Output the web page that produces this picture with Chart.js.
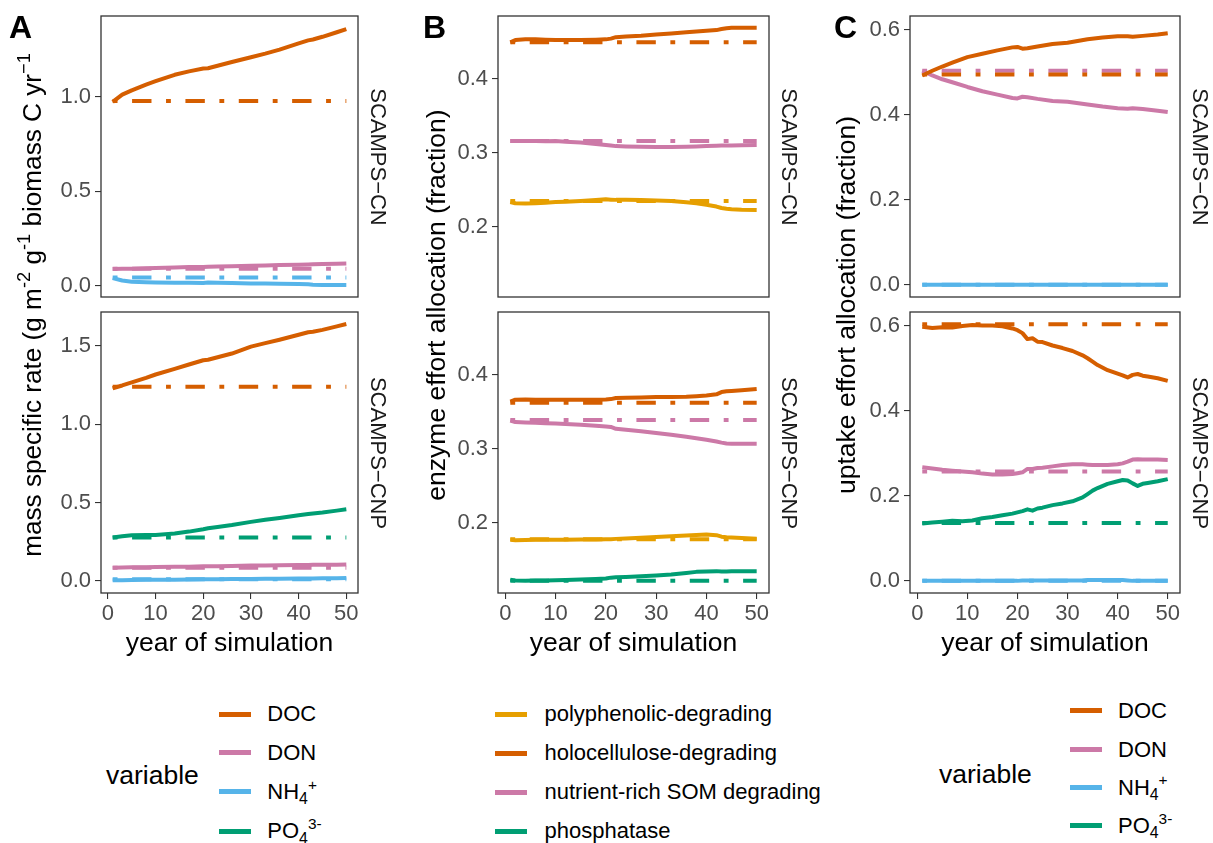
<!DOCTYPE html>
<html>
<head>
<meta charset="utf-8">
<script src="https://cdn.jsdelivr.net/npm/chart.js@4.4.1/dist/chart.umd.min.js"></script>
<style>
  body { margin: 0; background: #fff; font-family: 'Liberation Sans', Arial, sans-serif; }
  #fig { position: relative; width: 1213px; height: 843px; overflow: hidden; }
  canvas { position: absolute; }
  .txt { position: absolute; white-space: nowrap; line-height: 1; }
  .ytitle { font-size: 26.5px; color: #000; transform: translate(-50%, -50%) rotate(-90deg); }
  .strip { font-size: 22px; color: #1a1a1a; transform: translate(-50%, -50%) rotate(90deg); }
  .tag { font-size: 32px; font-weight: bold; color: #000; }
  .xtitle { font-size: 26.5px; color: #000; transform: translateX(-50%); }
  .lgtitle { font-size: 26.5px; color: #000; }
  .lglab { font-size: 22px; color: #000; }
  .key { position: absolute; height: 5px; }
  .sp { font-size: 0.7em; position: relative; top: -0.6em; line-height: 0; }
  .sb { font-size: 0.72em; position: relative; top: 0.35em; line-height: 0; }
</style>
</head>
<body>
<div id="fig"></div>
<script>
// colours (Okabe-Ito)
const cDOC = '#D55E00', cDON = '#CC79A7', cNH4 = '#56B4E9', cPO4 = '#009E73', cPOLY = '#E69F00';

// ---- panel A: mass specific rate ----
const yearsA = [1, 3, 5, 8, 10, 14, 17, 20, 21, 23, 26, 30, 33, 36, 40, 42, 43, 45, 48, 50];
const A_CN_DOC = [0.972, 1.010, 1.033, 1.063, 1.081, 1.115, 1.133, 1.148, 1.150, 1.163, 1.183, 1.208, 1.227, 1.248, 1.281, 1.297, 1.302, 1.316, 1.340, 1.357];
const A_CN_DON = [0.088, 0.089, 0.090, 0.092, 0.093, 0.096, 0.098, 0.099, 0.100, 0.101, 0.103, 0.105, 0.107, 0.109, 0.111, 0.112, 0.113, 0.114, 0.116, 0.117];
const A_CN_NH4 = [0.040, 0.027, 0.021, 0.018, 0.017, 0.016, 0.015, 0.014, 0.017, 0.016, 0.014, 0.012, 0.011, 0.010, 0.009, 0.007, 0.005, 0.004, 0.004, 0.004];
const A_CN_REF = { DOC: 0.976, DON: 0.090, NH4: 0.043 };
const A_CNP_DOC = [1.230, 1.248, 1.268, 1.297, 1.318, 1.354, 1.382, 1.409, 1.412, 1.428, 1.452, 1.496, 1.518, 1.540, 1.572, 1.588, 1.591, 1.603, 1.625, 1.640];
const A_CNP_DON = [0.085, 0.086, 0.087, 0.088, 0.089, 0.090, 0.091, 0.093, 0.094, 0.094, 0.096, 0.098, 0.099, 0.100, 0.101, 0.102, 0.103, 0.103, 0.104, 0.105];
const A_CNP_NH4 = [0.005, 0.005, 0.006, 0.007, 0.007, 0.008, 0.009, 0.010, 0.011, 0.011, 0.012, 0.013, 0.014, 0.014, 0.015, 0.016, 0.016, 0.017, 0.017, 0.018];
const A_CNP_PO4 = [0.277, 0.285, 0.292, 0.294, 0.294, 0.303, 0.315, 0.330, 0.336, 0.345, 0.357, 0.377, 0.390, 0.402, 0.420, 0.427, 0.431, 0.437, 0.449, 0.457];
const A_CNP_REF = { DOC: 1.240, DON: 0.085, NH4: 0.010, PO4: 0.278 };

// ---- panel B: enzyme effort allocation ----
const yearsB = [1, 2, 4, 6, 8, 10, 12, 15, 18, 20, 21, 22, 24, 27, 30, 33, 36, 38, 40, 42, 43, 44, 45, 47, 50];
const B_CN_POLY = [0.2337, 0.2320, 0.2315, 0.2318, 0.2325, 0.2335, 0.2340, 0.2350, 0.2362, 0.2372, 0.2368, 0.2365, 0.2365, 0.2362, 0.2358, 0.2350, 0.2333, 0.2318, 0.2298, 0.2275, 0.2255, 0.2245, 0.2238, 0.2232, 0.2228];
const B_CN_HOLO = [0.4490, 0.4520, 0.4530, 0.4530, 0.4525, 0.4520, 0.4520, 0.4520, 0.4525, 0.4530, 0.4540, 0.4560, 0.4570, 0.4580, 0.4595, 0.4610, 0.4625, 0.4635, 0.4645, 0.4655, 0.4670, 0.4680, 0.4685, 0.4687, 0.4687];
const B_CN_SOM = [0.3160, 0.3160, 0.3158, 0.3158, 0.3157, 0.3158, 0.3150, 0.3138, 0.3120, 0.3105, 0.3097, 0.3090, 0.3085, 0.3080, 0.3078, 0.3079, 0.3082, 0.3085, 0.3090, 0.3094, 0.3097, 0.3100, 0.3100, 0.3102, 0.3105];
const B_CN_REF = { POLY: 0.235, HOLO: 0.449, SOM: 0.316 };
const B_CNP_POLY = [0.1772, 0.1768, 0.1770, 0.1772, 0.1772, 0.1772, 0.1774, 0.1776, 0.1778, 0.1780, 0.1781, 0.1785, 0.1790, 0.1800, 0.1810, 0.1820, 0.1832, 0.1837, 0.1843, 0.1835, 0.1815, 0.1808, 0.1805, 0.1798, 0.1788];
const B_CNP_HOLO = [0.3636, 0.3662, 0.3665, 0.3660, 0.3660, 0.3662, 0.3662, 0.3663, 0.3663, 0.3665, 0.3670, 0.3686, 0.3690, 0.3692, 0.3697, 0.3700, 0.3703, 0.3710, 0.3720, 0.3735, 0.3765, 0.3775, 0.3780, 0.3790, 0.3807];
const B_CNP_SOM = [0.3380, 0.3360, 0.3355, 0.3350, 0.3345, 0.3340, 0.3335, 0.3325, 0.3312, 0.3302, 0.3295, 0.3270, 0.3258, 0.3238, 0.3212, 0.3188, 0.3162, 0.3143, 0.3122, 0.3098, 0.3083, 0.3072, 0.3068, 0.3067, 0.3067];
const B_CNP_PHOS = [0.1233, 0.1225, 0.1221, 0.1222, 0.1225, 0.1228, 0.1232, 0.1238, 0.1245, 0.1250, 0.1262, 0.1268, 0.1272, 0.1282, 0.1292, 0.1305, 0.1325, 0.1340, 0.1345, 0.1350, 0.1345, 0.1345, 0.1348, 0.1350, 0.1350];
const B_CNP_REF = { POLY: 0.178, HOLO: 0.362, SOM: 0.339, PHOS: 0.122 };

// ---- panel C: uptake effort allocation ----
const yearsC1 = [1, 3, 5, 7, 10, 13, 16, 19, 20, 21, 22, 24, 27, 30, 34, 37, 40, 42, 43, 45, 48, 50];
const C_CN_DOC = [0.492, 0.503, 0.513, 0.522, 0.535, 0.543, 0.551, 0.558, 0.559, 0.555, 0.556, 0.560, 0.566, 0.569, 0.577, 0.581, 0.584, 0.584, 0.583, 0.585, 0.588, 0.591];
const C_CN_DON = [0.503, 0.492, 0.483, 0.476, 0.465, 0.455, 0.447, 0.439, 0.438, 0.442, 0.441, 0.437, 0.432, 0.430, 0.424, 0.419, 0.415, 0.414, 0.415, 0.413, 0.409, 0.406];
const C_CN_NH4 = [0.000, 0.000, 0.000, 0.000, 0.000, 0.000, 0.000, 0.000, 0.000, 0.000, 0.000, 0.000, 0.000, 0.000, 0.000, 0.000, 0.000, 0.000, 0.000, 0.000, 0.000, 0.000];
const C_CN_REF = { DOC: 0.494, DON: 0.503, NH4: 0.000 };
const yearsC2 = [1, 3, 5, 7, 9, 11, 13, 15, 17, 19, 20, 21, 22, 23, 24, 25, 27, 29, 31, 33, 34, 35, 36, 38, 40, 41, 42, 43, 44, 45, 46, 48, 50];
const C_CNP_DOC = [0.597, 0.594, 0.596, 0.595, 0.599, 0.601, 0.600, 0.600, 0.598, 0.593, 0.589, 0.582, 0.568, 0.570, 0.562, 0.561, 0.553, 0.547, 0.540, 0.530, 0.523, 0.515, 0.507, 0.495, 0.487, 0.483, 0.478, 0.484, 0.486, 0.482, 0.480, 0.476, 0.470];
const C_CNP_DON = [0.267, 0.264, 0.261, 0.259, 0.257, 0.255, 0.252, 0.250, 0.250, 0.251, 0.253, 0.255, 0.263, 0.263, 0.265, 0.266, 0.269, 0.272, 0.274, 0.274, 0.273, 0.272, 0.272, 0.272, 0.274, 0.276, 0.280, 0.285, 0.286, 0.285, 0.285, 0.285, 0.284];
const C_CNP_NH4 = [0.000, 0.000, 0.000, 0.000, 0.000, 0.000, 0.000, 0.000, 0.000, 0.000, 0.000, 0.001, 0.001, 0.001, 0.001, 0.001, 0.001, 0.001, 0.001, 0.001, 0.002, 0.002, 0.002, 0.002, 0.002, 0.002, 0.001, 0.000, 0.000, 0.000, 0.000, 0.000, 0.000];
const C_CNP_PO4 = [0.135, 0.137, 0.139, 0.141, 0.140, 0.142, 0.147, 0.150, 0.154, 0.158, 0.161, 0.164, 0.168, 0.165, 0.170, 0.172, 0.178, 0.182, 0.187, 0.196, 0.204, 0.212, 0.218, 0.228, 0.234, 0.237, 0.236, 0.229, 0.223, 0.228, 0.230, 0.234, 0.239];
const C_CNP_REF = { DOC: 0.603, DON: 0.257, NH4: 0.000, PO4: 0.136 };

// ticks
const xTicks = [0, 10, 20, 30, 40, 50];
const yTicksA1 = [0, 0.5, 1.0];
const yTicksA2 = [0, 0.5, 1.0, 1.5];
const yTicksB = [0.2, 0.3, 0.4];
const yTicksC = [0, 0.2, 0.4, 0.6];

// layout (px)
const colLeft = [101, 498, 910];
const colWidth = [257, 271, 270];
const rowTop = [16, 312];
const rowH = 281;
const yAxisW = 95;
const xAxisH = 36;
const dotdash = [4.85, 14.55, 19.4, 14.55];

Chart.defaults.font.family = "'Liberation Sans', Arial, sans-serif";

const fig = document.getElementById('fig');

function solid(years, vals, color) {
  return {
    data: years.map((x, i) => ({ x: x, y: vals[i] })),
    borderColor: color, borderWidth: 4, pointRadius: 0,
    borderCapStyle: 'butt', borderJoinStyle: 'round', tension: 0
  };
}
function ref(val, color) {
  return {
    data: [{ x: 1, y: val }, { x: 50, y: val }],
    borderColor: color, borderWidth: 4, pointRadius: 0,
    borderCapStyle: 'butt', borderDash: dotdash
  };
}

const borderPlugin = {
  id: 'panelBorder',
  afterDraw(chart) {
    const a = chart.chartArea, ctx = chart.ctx;
    ctx.save();
    ctx.strokeStyle = '#333333';
    ctx.lineWidth = 1.3;
    ctx.strokeRect(a.left, a.top, a.right - a.left, a.bottom - a.top);
    ctx.restore();
  }
};

function makePanel(col, row, yMin, yMax, yTicks, datasets) {
  const bottom = row === 1;
  const cv = document.createElement('canvas');
  const w = yAxisW + colWidth[col] + 20;
  const h = 1 + rowH + (bottom ? xAxisH : 1);
  cv.width = w; cv.height = h;
  cv.style.left = (colLeft[col] - yAxisW) + 'px';
  cv.style.top = (rowTop[row] - 1) + 'px';
  cv.style.width = w + 'px'; cv.style.height = h + 'px';
  fig.appendChild(cv);

  new Chart(cv, {
    type: 'line',
    data: { datasets: datasets },
    options: {
      responsive: false,
      animation: false,
      layout: { padding: { top: 1, right: 20, bottom: bottom ? 0 : 1, left: 0 } },
      plugins: { legend: { display: false }, tooltip: { enabled: false } },
      scales: {
        x: {
          type: 'linear', min: -1.45, max: 52.45, display: bottom,
          afterBuildTicks: (s) => { s.ticks = xTicks.map(v => ({ value: v })); },
          afterFit: (s) => { s.height = bottom ? xAxisH : 0; s.paddingLeft = 0; s.paddingRight = 0; },
          ticks: { font: { size: 22 }, color: '#4D4D4D', padding: 2, maxRotation: 0, autoSkip: false },
          grid: { display: true, drawOnChartArea: false, tickLength: 6, color: '#333333', lineWidth: 1.1 },
          border: { display: false }
        },
        y: {
          type: 'linear', min: yMin, max: yMax,
          afterBuildTicks: (s) => { s.ticks = yTicks.map(v => ({ value: v })); },
          afterFit: (s) => { s.width = yAxisW; s.paddingTop = 0; s.paddingBottom = 0; },
          ticks: { font: { size: 22 }, color: '#4D4D4D', padding: 4, callback: (v) => v.toFixed(1) },
          grid: { display: true, drawOnChartArea: false, tickLength: 6, color: '#333333', lineWidth: 1.1 },
          border: { display: false }
        }
      }
    },
    plugins: [borderPlugin]
  });
}

// A
makePanel(0, 0, -0.06, 1.426, yTicksA1, [
  solid(yearsA, A_CN_DOC, cDOC), solid(yearsA, A_CN_DON, cDON), solid(yearsA, A_CN_NH4, cNH4),
  ref(A_CN_REF.DOC, cDOC), ref(A_CN_REF.DON, cDON), ref(A_CN_REF.NH4, cNH4)
]);
makePanel(0, 1, -0.077, 1.717, yTicksA2, [
  solid(yearsA, A_CNP_DOC, cDOC), solid(yearsA, A_CNP_DON, cDON), solid(yearsA, A_CNP_NH4, cNH4), solid(yearsA, A_CNP_PO4, cPO4),
  ref(A_CNP_REF.DOC, cDOC), ref(A_CNP_REF.DON, cDON), ref(A_CNP_REF.NH4, cNH4), ref(A_CNP_REF.PO4, cPO4)
]);
// B
makePanel(1, 0, 0.1055, 0.4845, yTicksB, [
  solid(yearsB, B_CN_POLY, cPOLY), solid(yearsB, B_CN_HOLO, cDOC), solid(yearsB, B_CN_SOM, cDON),
  ref(B_CN_REF.POLY, cPOLY), ref(B_CN_REF.HOLO, cDOC), ref(B_CN_REF.SOM, cDON)
]);
makePanel(1, 1, 0.1055, 0.4845, yTicksB, [
  solid(yearsB, B_CNP_POLY, cPOLY), solid(yearsB, B_CNP_HOLO, cDOC), solid(yearsB, B_CNP_SOM, cDON), solid(yearsB, B_CNP_PHOS, cPO4),
  ref(B_CNP_REF.POLY, cPOLY), ref(B_CNP_REF.HOLO, cDOC), ref(B_CNP_REF.SOM, cDON), ref(B_CNP_REF.PHOS, cPO4)
]);
// C
makePanel(2, 0, -0.0285, 0.6317, yTicksC, [
  solid(yearsC1, C_CN_DOC, cDOC), solid(yearsC1, C_CN_DON, cDON), solid(yearsC1, C_CN_NH4, cNH4),
  ref(C_CN_REF.DOC, cDOC), ref(C_CN_REF.DON, cDON), ref(C_CN_REF.NH4, cNH4)
]);
makePanel(2, 1, -0.0285, 0.6317, yTicksC, [
  solid(yearsC2, C_CNP_DOC, cDOC), solid(yearsC2, C_CNP_DON, cDON), solid(yearsC2, C_CNP_NH4, cNH4), solid(yearsC2, C_CNP_PO4, cPO4),
  ref(C_CNP_REF.DOC, cDOC), ref(C_CNP_REF.DON, cDON), ref(C_CNP_REF.NH4, cNH4), ref(C_CNP_REF.PO4, cPO4)
]);

// ---- text overlays ----
function addText(cls, html, left, top) {
  const d = document.createElement('div');
  d.className = 'txt ' + cls;
  d.innerHTML = html;
  d.style.left = left + 'px';
  d.style.top = top + 'px';
  fig.appendChild(d);
  return d;
}

addText('tag', 'A', 9, 10.6);
addText('tag', 'B', 423, 10.6);
addText('tag', 'C', 834, 10.6);

// the plotmath title in the reference is a bit tighter than html text: fit it to its length
const titleA = addText('ytitle', 'mass specific rate (g m<span class="sp">-2</span> g<span class="sp">-1</span> biomass C yr<span class="sp">\u22121</span>', 31.5, 305);
const fitA = 504 / titleA.offsetWidth;
if (fitA < 1) titleA.style.transform = 'translate(-50%, -50%) rotate(-90deg) scaleX(' + fitA + ')';
addText('ytitle', 'enzyme effort allocation (fraction)', 435.8, 304.5);
addText('ytitle', 'uptake effort allocation (fraction)', 846, 304.5);

const stripX = [377.5, 789.2, 1200.2];
stripX.forEach(x => {
  addText('strip', 'SCAMPS\u2212CN', x, rowTop[0] + rowH / 2);
  addText('strip', 'SCAMPS\u2212CNP', x, rowTop[1] + rowH / 2);
});

colLeft.forEach((l, i) => addText('xtitle', 'year of simulation', l + colWidth[i] / 2, 629.3));

// legends
const nutLabels = ['DOC', 'DON', 'NH<span class="sb">4</span><span class="sp">+</span>', 'PO<span class="sb">4</span><span class="sp">3-</span>'];
const nutColors = [cDOC, cDON, cNH4, cPO4];
const enzLabels = ['polyphenolic-degrading', 'holocellulose-degrading', 'nutrient-rich SOM degrading', 'phosphatase'];
const enzColors = [cPOLY, cDOC, cDON, cPO4];

function legend(labels, colors, keyX, keyW, labX, rows) {
  labels.forEach((lab, i) => {
    const k = document.createElement('div');
    k.className = 'key';
    k.style.left = keyX + 'px';
    k.style.width = keyW + 'px';
    k.style.top = (rows[i] - 2.5) + 'px';
    k.style.background = colors[i];
    fig.appendChild(k);
    addText('lglab', lab, labX, rows[i] - 10.75);
  });
}
addText('lgtitle', 'variable', 106, 762.1);
legend(nutLabels, nutColors, 218.5, 32, 267.3, [714, 752.7, 791.7, 831]);
legend(enzLabels, enzColors, 495, 32, 544.5, [714, 753, 792, 831]);
addText('lgtitle', 'variable', 939, 761.1);
legend(nutLabels, nutColors, 1070, 32, 1118, [710.7, 749.3, 787.3, 825.7]);
</script>
</body>
</html>
